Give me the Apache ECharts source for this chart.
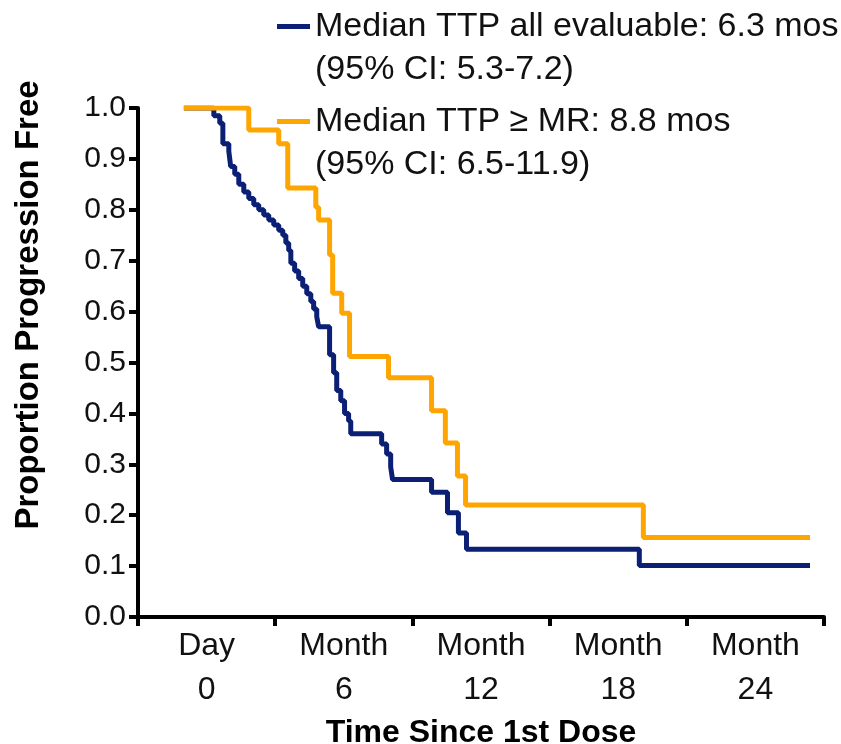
<!DOCTYPE html>
<html>
<head>
<meta charset="utf-8">
<script src="https://cdn.jsdelivr.net/npm/echarts@6/dist/echarts.min.js"></script>
<style>
html,body{margin:0;padding:0;background:#fff;}
#chart{width:841px;height:744px;}
</style>
</head>
<body>
<div id="chart"></div>
<script>
// ---- data ----
const xLabels = ['Day\n0', 'Month\n6', 'Month\n12', 'Month\n18', 'Month\n24'];
const seriesNames = ['Median TTP all evaluable: 6.3 mos\n(95% CI: 5.3-7.2)', 'Median TTP \u2265 MR: 8.8 mos\n(95% CI: 6.5-11.9)'];
// time in months, proportion progression free (Kaplan-Meier steps)
const allMonths = [0, 1.26, 1.51, 1.64, 1.89, 1.97, 2.14, 2.31, 2.52, 2.73, 2.94, 3.15, 3.36, 3.57, 3.78, 3.99, 4.16, 4.29, 4.41, 4.50, 4.66, 4.83, 5.00, 5.17, 5.34, 5.46, 5.59, 5.67, 6.13, 6.30, 6.43, 6.60, 6.76, 6.93, 7.02, 8.32, 8.53, 8.70, 8.78, 10.42, 11.09, 11.55, 11.89, 19.16, 26.34];
const allSurv   = [1.0, 0.985, 0.97, 0.93, 0.915, 0.885, 0.87, 0.85, 0.835, 0.822, 0.81, 0.80, 0.79, 0.78, 0.77, 0.76, 0.75, 0.735, 0.72, 0.695, 0.68, 0.665, 0.65, 0.635, 0.62, 0.605, 0.59, 0.57, 0.515, 0.48, 0.445, 0.425, 0.40, 0.385, 0.36, 0.34, 0.32, 0.295, 0.27, 0.245, 0.205, 0.165, 0.133, 0.101, 0.101];
const mrMonths = [0, 2.73, 3.99, 4.37, 5.55, 5.67, 6.13, 6.26, 6.64, 6.97, 8.61, 10.42, 11.0, 11.51, 11.85, 19.33, 26.34];
const mrSurv   = [1.0, 0.957, 0.93, 0.843, 0.805, 0.78, 0.711, 0.636, 0.597, 0.512, 0.47, 0.405, 0.342, 0.277, 0.22, 0.156, 0.156];
const yMin = 0, yMax = 1, yStep = 0.1;
const xMinMonths = -1.93, xMaxMonths = 26.93;

const FONT = 'Liberation Sans, Arial, sans-serif';
const BLUE = '#0B1F75', ORANGE = '#FFA500';

const chart = echarts.init(document.getElementById('chart'), null, {renderer: 'canvas'});
const zip = (a, b) => a.map((v, i) => [v, b[i]]);
const iconPath = 'path://M0,0H33V5H0Z M0,48H33V48.01H0Z';

chart.setOption({
  animation: false,
  backgroundColor: '#fff',
  textStyle: {fontFamily: FONT},
  grid: {left: 138, right: 17, top: 108, bottom: 127, containLabel: false, outerBoundsMode: 'none'},
  legend: {
    orient: 'vertical', left: 272, top: 0,
    itemWidth: 33, itemHeight: 48, itemGap: 9,
    icon: iconPath,
    selectedMode: false,
    textStyle: {fontFamily: FONT, fontSize: 34, lineHeight: 43, color: '#111'},
    data: [
      {name: seriesNames[0], itemStyle: {color: BLUE, borderWidth: 0}},
      {name: seriesNames[1], itemStyle: {color: ORANGE, borderWidth: 0}}
    ]
  },
  xAxis: [
    {
      type: 'category', data: xLabels, boundaryGap: true, position: 'bottom',
      name: 'Time Since 1st Dose', nameLocation: 'middle', nameGap: 93,
      nameTextStyle: {fontFamily: FONT, fontSize: 32, fontWeight: 'bold', color: '#000'},
      axisLine: {onZero: false, lineStyle: {color: '#000', width: 4}},
      axisTick: {show: true, interval: 0, length: 9, lineStyle: {color: '#000', width: 4}},
      axisLabel: {interval: 0, fontFamily: FONT, fontSize: 32, lineHeight: 44, color: '#111', margin: 7},
      splitLine: {show: false}
    },
    {
      type: 'value', min: xMinMonths, max: xMaxMonths, show: false, position: 'bottom'
    }
  ],
  yAxis: {
    type: 'value', min: yMin, max: yMax, interval: yStep,
    name: 'Proportion Progression Free', nameLocation: 'middle', nameGap: 93, nameRotate: 90,
    nameTextStyle: {fontFamily: FONT, fontSize: 33, fontWeight: 'bold', color: '#000', padding: [0, 0, 0, 115]},
    axisLine: {show: true, onZero: false, lineStyle: {color: '#000', width: 4}},
    axisTick: {show: true, length: 9, lineStyle: {color: '#000', width: 4}},
    axisLabel: {fontFamily: FONT, fontSize: 30, color: '#111', margin: 12, formatter: v => v.toFixed(1)},
    splitLine: {show: false}
  },
  series: [
    {
      name: seriesNames[0], type: 'line', xAxisIndex: 1, step: 'end', showSymbol: false, symbol: 'none',
      color: BLUE, lineStyle: {color: BLUE, width: 5}, data: zip(allMonths, allSurv), z: 2
    },
    {
      name: seriesNames[1], type: 'line', xAxisIndex: 1, step: 'end', showSymbol: false, symbol: 'none',
      color: ORANGE, lineStyle: {color: ORANGE, width: 5}, data: zip(mrMonths, mrSurv), z: 3
    }
  ]
});
</script>
</body>
</html>
